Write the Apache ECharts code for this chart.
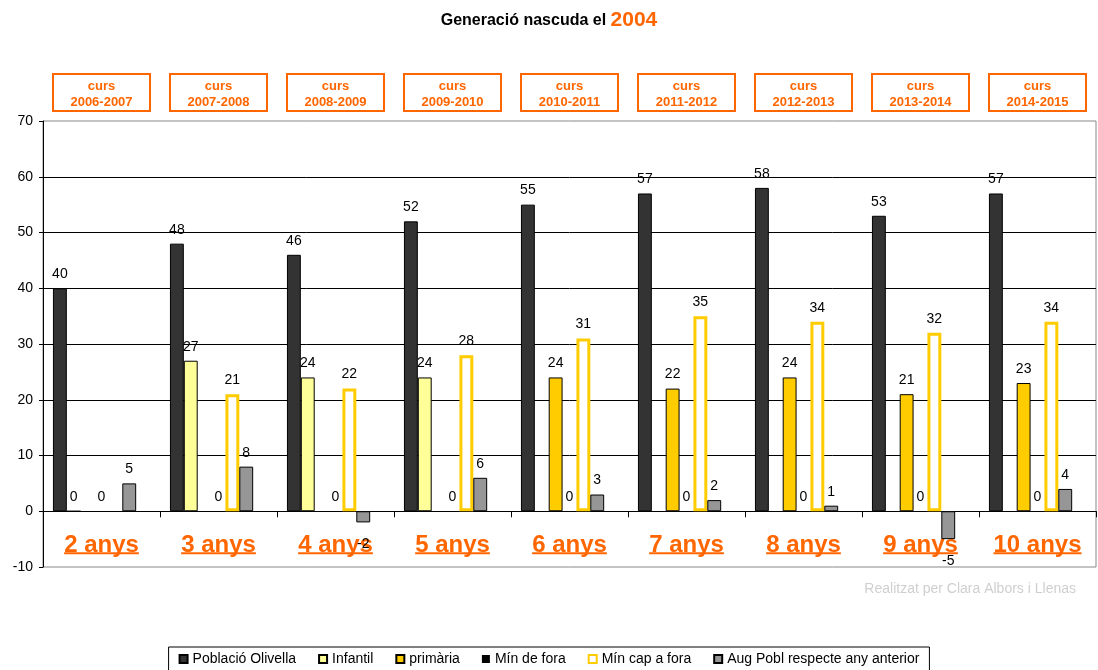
<!DOCTYPE html>
<html>
<head>
<meta charset="utf-8">
<script src="https://cdn.jsdelivr.net/npm/echarts@6/dist/echarts.min.js"></script>
<style>
html,body{margin:0;padding:0;background:#fff;}
#chart{width:1098px;height:670px;}
</style>
</head>
<body>
<div id="chart"></div>
<script>
// ---- data ----
const ages = ['2 anys','3 anys','4 anys','5 anys','6 anys','7 anys','8 anys','9 anys','10 anys'];
const courses = ['2006-2007','2007-2008','2008-2009','2009-2010','2010-2011','2011-2012','2012-2013','2013-2014','2014-2015'];
const seriesNames = ['Població Olivella','Infantil','primària','Mín de fora','Mín cap a fora','Aug Pobl respecte any anterior'];
const poblacio   = [40, 48, 46, 52, 55, 57, 58, 53, 57];
const infantil   = [0, 27, 24, 24, null, null, null, null, null];
const primaria   = [null, null, null, null, 24, 22, 24, 21, 23];
const minFora    = [0, 0, 0, 0, 0, 0, 0, 0, 0];
const minCapFora = [null, 21, 22, 28, 31, 35, 34, 32, 34];
const augPobl    = [5, 8, -2, 6, 3, 2, 1, -5, 4];
const yMin = -10, yMax = 70, yStep = 10;
const titleMain = 'Generació nascuda el ';
const titleYear = '2004';
const watermark = 'Realitzat per Clara Albors i Llenas';

const ORANGE = '#FF6600';
const FONT = '"Liberation Sans", Arial, Helvetica, sans-serif';

const labelBase = {
  show: true, position: 'top', distance: 7, color: '#000',
  fontSize: 14, fontFamily: FONT
};
function withNeg(arr) {
  return arr.map(v => (v !== null && v < 0) ? {value: v, label: {position: 'bottom', distance: 15}} : v);
}

const chart = echarts.init(document.getElementById('chart'), null, {renderer: 'canvas'});

const option = {
  backgroundColor: '#fff',
  animation: false,
  textStyle: {fontFamily: FONT},
  title: {
    left: 'center', top: 5,
    text: '{a|' + titleMain + '}{b|' + titleYear + '}',
    textStyle: {
      rich: {
        a: {fontSize: 16, fontWeight: 'bold', color: '#000', fontFamily: FONT},
        b: {fontSize: 21, fontWeight: 'bold', color: ORANGE, fontFamily: FONT}
      }
    }
  },
  legend: {
    data: seriesNames,
    top: 647, left: 'center',
    icon: 'rect',
    itemWidth: 8, itemHeight: 8, itemGap: 22,
    borderColor: '#000', borderWidth: 1, padding: [5, 10, 8, 10],
    backgroundColor: '#fff',
    textStyle: {fontSize: 14, color: '#000', fontFamily: FONT}
  },
  grid: {
    left: 43, right: 2, top: 121, bottom: 103,
    show: true, borderColor: '#888', borderWidth: 1, backgroundColor: 'transparent'
  },
  xAxis: [{
    type: 'category', data: ages, position: 'bottom',
    axisLine: {onZero: true, lineStyle: {color: '#000', width: 1}},
    axisTick: {show: true, length: 6, lineStyle: {color: '#000'}},
    axisLabel: {
      margin: -34, fontSize: 24, fontWeight: 'bold', color: ORANGE, fontFamily: FONT
    },
    splitLine: {show: false}
  }, {
    type: 'category', data: courses, position: 'top',
    axisLine: {show: false}, axisTick: {show: false},
    axisLabel: {
      margin: 11,
      formatter: v => 'curs\n' + v,
      fontSize: 13, fontWeight: 'bold', color: ORANGE, fontFamily: FONT,
      lineHeight: 16, width: 91, align: 'center',
      backgroundColor: '#fff', borderColor: ORANGE, borderWidth: 2,
      padding: [3, 2, 0, 2]
    }
  }],
  yAxis: {
    type: 'value', min: yMin, max: yMax, interval: yStep,
    axisLine: {show: true, lineStyle: {color: '#000'}},
    axisTick: {show: true, length: 4, lineStyle: {color: '#000'}},
    axisLabel: {fontSize: 14, color: '#000', margin: 10, fontFamily: FONT},
    splitLine: {show: true, showMinLine: false, showMaxLine: false, lineStyle: {color: '#000', width: 1}}
  },
  series: [
    {name: seriesNames[0], type: 'bar', data: poblacio, barGap: 0, barCategoryGap: '17%',
      itemStyle: {color: '#333333', borderColor: '#000', borderWidth: 1}, label: labelBase},
    {name: seriesNames[1], type: 'bar', data: infantil,
      itemStyle: {color: '#FFFF99', borderColor: '#000', borderWidth: 1}, label: labelBase},
    {name: seriesNames[2], type: 'bar', data: primaria,
      itemStyle: {color: '#FFCC00', borderColor: '#000', borderWidth: 1}, label: labelBase},
    {name: seriesNames[3], type: 'bar', data: minFora,
      itemStyle: {color: '#000', borderWidth: 0}, label: labelBase},
    {name: seriesNames[4], type: 'bar', data: minCapFora,
      itemStyle: {color: '#fff', borderColor: '#FFCC00', borderWidth: 3}, label: labelBase},
    {name: seriesNames[5], type: 'bar', data: withNeg(augPobl),
      itemStyle: {color: '#969696', borderColor: '#000', borderWidth: 1}, label: labelBase},
    {name: '', type: 'bar', data: []}
  ]
};
chart.setOption(option);

// underline the bottom category labels, placed through the axis scales
const ctx = document.createElement('canvas').getContext('2d');
ctx.font = 'bold 24px ' + FONT;
const y0 = chart.convertToPixel({yAxisIndex: 0}, 0);
const graphics = ages.map(a => {
  const cx = chart.convertToPixel({xAxisIndex: 0}, a);
  const w = ctx.measureText(a).width;
  return {
    type: 'line', silent: true, z: 10,
    shape: {x1: cx - w / 2, y1: y0 + 42, x2: cx + w / 2, y2: y0 + 42},
    style: {stroke: ORANGE, lineWidth: 2}
  };
});
graphics.push({
  type: 'text', right: 22, top: 582, silent: true,
  style: {text: watermark, fill: '#cfcfcf', font: '14px "Liberation Sans Narrow", ' + FONT}
});
chart.setOption({graphic: graphics});
</script>
</body>
</html>
